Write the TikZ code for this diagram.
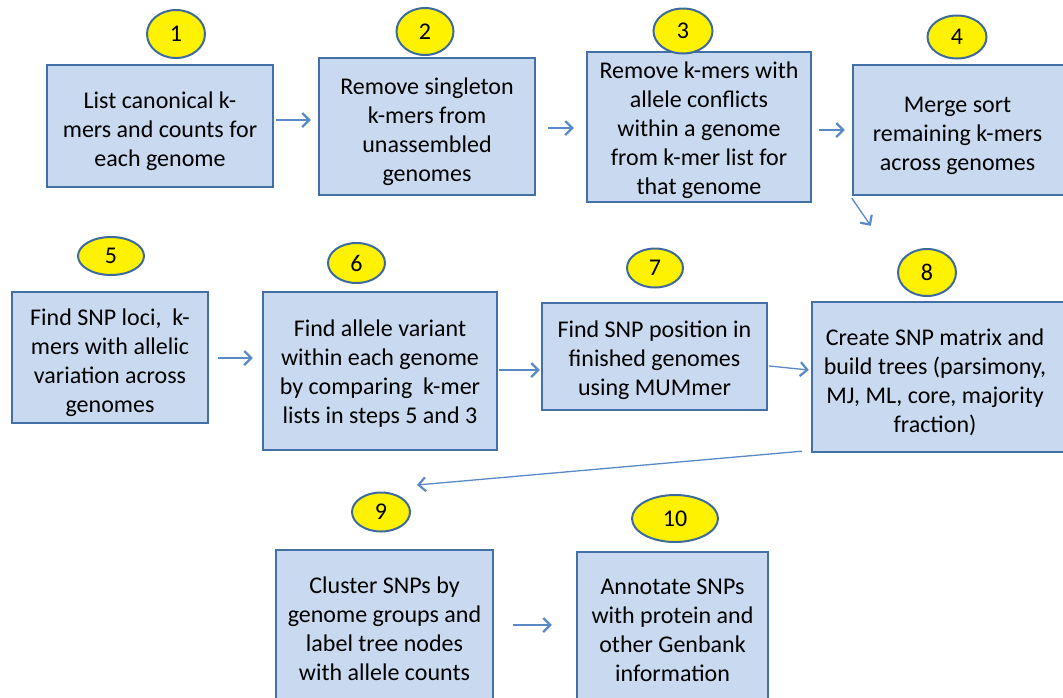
\documentclass[tikz,border=0pt]{standalone}
\usepackage{fontspec}
\setmainfont{Carlito}
\usetikzlibrary{shapes.geometric,arrows.meta,calc}
\definecolor{boxfill}{HTML}{C9DAF0}
\definecolor{boxline}{HTML}{4470A8}
\definecolor{ellline}{HTML}{3D6A9E}
\definecolor{arrcol}{HTML}{5A8AC6}
\tikzset{
  stepbox/.style={rectangle, draw=boxline, fill=boxfill, line width=2.4pt, inner sep=0pt, align=center,
    font=\fontsize{24}{29}\selectfont},
  numell/.style={ellipse, draw=ellline, fill=yellow, line width=2pt, inner sep=0pt,
    font=\fontsize{24}{29}\selectfont},
  arr/.style={draw=arrcol, line width=1.3pt, -{Straight Barb[length=7pt,width=14pt,line width=2.2pt]}}
}
\newcommand{\dn}{\rule{0pt}{27pt}}
\begin{document}
\begin{tikzpicture}[x=1pt,y=-1pt]
\useasboundingbox (0,0) rectangle (1063,697);
% boxes
\node[stepbox, minimum width=226, minimum height=122] (b1) at (160,126) {\dn List canonical k-\\mers and counts for\\each genome};
\node[stepbox, minimum width=216, minimum height=137] (b2) at (427,126.5) {\dn Remove singleton\\k-mers from\\unassembled\\genomes};
\node[stepbox, minimum width=224, minimum height=150] (b3) at (699,127) {\rule{0pt}{24pt}Remove k-mers with\\allele conflicts\\within a genome\\from k-mer list for\\that genome};
\node[stepbox, minimum width=217, minimum height=130] (b4) at (961.5,130) {\hspace*{-8pt}\dn Merge sort\\\hspace*{-8pt}remaining k-mers\\\hspace*{-8pt}across genomes};
\node[stepbox, minimum width=196, minimum height=131] (b5) at (110,357.5) {\dn Find SNP loci,\ \ k-\\mers with allelic\\variation across\\genomes};
\node[stepbox, minimum width=234, minimum height=158] (b6) at (380,371) {\rule{0pt}{22pt}Find allele variant\\within each genome\\by comparing\ \ k-mer\\lists in steps 5 and 3};
\node[stepbox, minimum width=225, minimum height=107] (b7) at (654.5,356.5) {\rule{0pt}{25pt}Find SNP position in\\finished genomes\\using MUMmer};
\node[stepbox, minimum width=258, minimum height=150] (b8) at (941,377) {\hspace*{-12pt}\dn Create SNP matrix and\\\hspace*{-12pt}build trees (parsimony,\\\hspace*{-12pt}MJ, ML, core, majority\\\hspace*{-12pt}fraction)};
\node[stepbox, minimum width=217, minimum height=155] (b9) at (384.5,627.5) {\rule{0pt}{20pt}Cluster SNPs by\\genome groups and\\label tree nodes\\with allele counts};
\node[stepbox, minimum width=191, minimum height=153] (b10) at (672.5,628.5) {\rule{0pt}{20pt}Annotate SNPs\\with protein and\\other Genbank\\information};
% number ellipses
\node[numell, minimum width=58, minimum height=48] (e1) at (176,34) {1};
\node[numell, minimum width=57, minimum height=47] (e2) at (425,31.5) {2};
\node[numell, minimum width=59, minimum height=45] (e3) at (683,31) {3};
\node[numell, minimum width=59, minimum height=43] (e4) at (957,37) {4};
\node[numell, minimum width=66, minimum height=38] (e5) at (111,256) {5};
\node[numell, minimum width=57, minimum height=40] (e6) at (356.5,263) {6};
\node[numell, minimum width=56, minimum height=39] (e7) at (655,268) {7};
\node[numell, minimum width=58, minimum height=47] (e8) at (927,272.5) {8};
\node[numell, minimum width=58, minimum height=39] (e9) at (381,512) {9};
\node[numell, minimum width=86, minimum height=47] (e10) at (675,518.5) {10};
% connectors
\draw[arr] ($(b1.east)+(2,-6)$) -- ($(b2.west)+(-7,-6.5)$);
\draw[arr] ($(b2.east)+(12,1.5)$) -- ($(b3.west)+(-12,1)$);
\draw[arr] ($(b3.east)+(7,3)$) -- ($(b4.west)+(-7,0)$);
\draw[arr] ($(b4.south west)+(0,2)$) -- ($(b8.north west)+(60,-75)$);
\draw[arr] ($(b5.east)+(9,0.5)$) -- ($(b6.west)+(-9,-13)$);
\draw[arr] ($(b6.east)+(1,-1)$) -- ($(b7.west)+(-1,13.5)$);
\draw[arr] ($(b7.east)+(1,9.5)$) -- ($(b8.west)+(-2,-7)$);
\draw[arr] ($(b8.south west)+(-9,-2)$) -- ($(e9.center)+(36,-27)$);
\draw[arr] ($(b9.east)+(19,-2.5)$) -- ($(b10.west)+(-24,-3.5)$);
\end{tikzpicture}
\end{document}
